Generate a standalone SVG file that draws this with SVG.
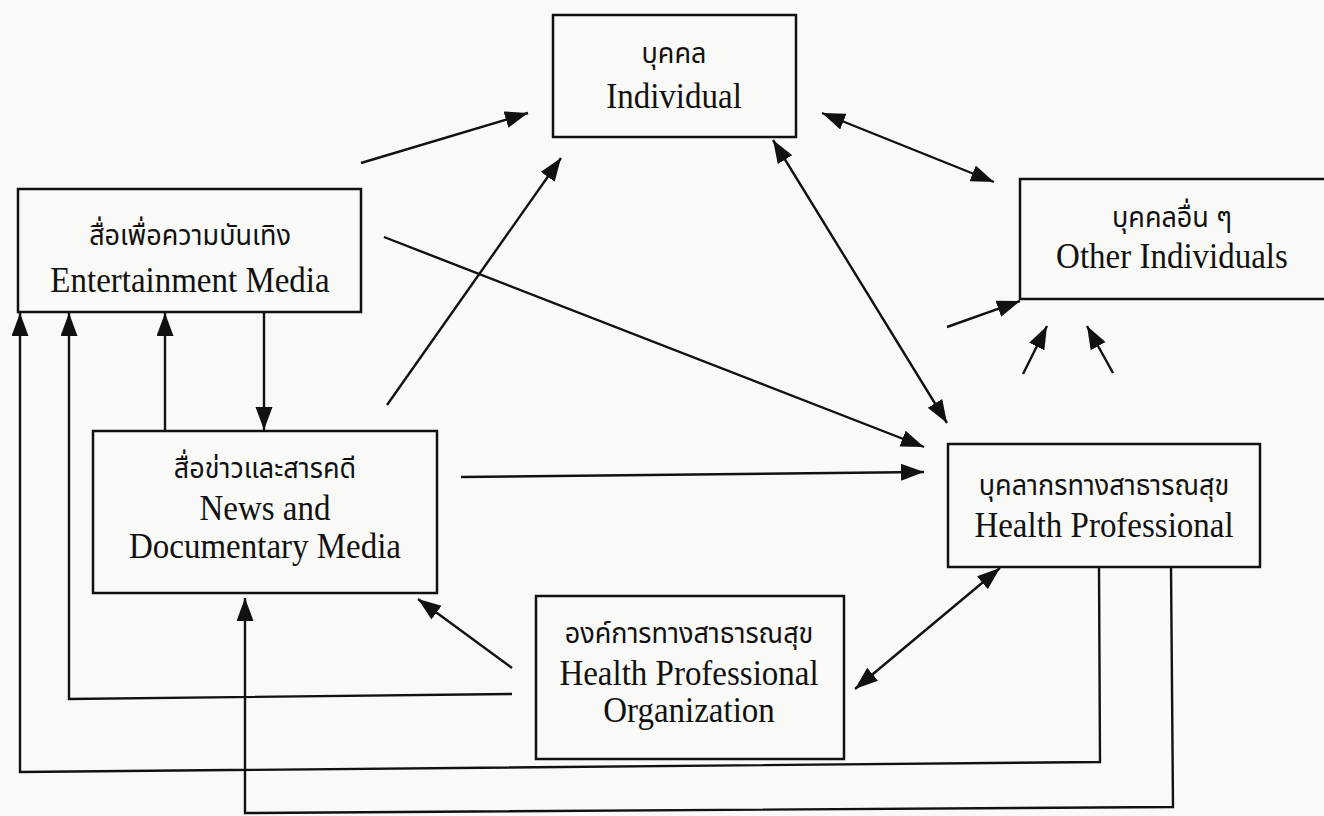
<svg xmlns="http://www.w3.org/2000/svg" width="1324" height="816" viewBox="0 0 1324 816">
<defs>
<marker id="ah" markerUnits="userSpaceOnUse" markerWidth="26" markerHeight="18" refX="23" refY="8.5" orient="auto-start-reverse">
<path d="M0,0 L23,8.5 L0,17 z" fill="#111"/>
</marker>
<style>
.box{fill:none;stroke:#111;stroke-width:2.5}
.en{font-family:"Liberation Serif","Times New Roman",serif;font-size:33px;fill:#111;text-anchor:middle}
.th{font-family:"Noto Sans Thai","Noto Sans","DejaVu Sans",sans-serif;font-size:27px;fill:#111;text-anchor:middle}
.c{fill:none;stroke:#111;stroke-width:2.4}
.c1{marker-end:url(#ah)}
.c2{marker-start:url(#ah);marker-end:url(#ah)}
</style>
</defs>
<rect x="0" y="0" width="1324" height="816" fill="#f9f9f8"/>
<g id="individual">
<rect class="box" x="553" y="15" width="243" height="122"/>
<text class="th" transform="translate(674,63) scale(1,1.05)">บุคคล</text>
<text class="en" transform="translate(674,108) scale(1,1.1)">Individual</text>
</g>
<g id="other-individuals">
<rect class="box" x="1020" y="179" width="320" height="120"/>
<text class="th" transform="translate(1172,227) scale(1,1.05)">บุคคลอื่น ๆ</text>
<text class="en" transform="translate(1172,268) scale(1,1.1)">Other Individuals</text>
</g>
<g id="entertainment-media">
<rect class="box" x="18" y="189" width="343" height="123"/>
<text class="th" transform="translate(190,245) scale(1,1.05)">สื่อเพื่อความบันเทิง</text>
<text class="en" transform="translate(190,292) scale(1,1.1)">Entertainment Media</text>
</g>
<g id="news-media">
<rect class="box" x="93" y="431" width="344" height="162"/>
<text class="th" transform="translate(265,478) scale(1,1.05)">สื่อข่าวและสารคดี</text>
<text class="en" transform="translate(265,520) scale(1,1.1)">News and</text>
<text class="en" transform="translate(265,558) scale(1,1.1)">Documentary Media</text>
</g>
<g id="health-professional">
<rect class="box" x="948" y="444" width="312" height="123"/>
<text class="th" transform="translate(1104,495) scale(1,1.05)">บุคลากรทางสาธารณสุข</text>
<text class="en" transform="translate(1104,537) scale(1,1.1)">Health Professional</text>
</g>
<g id="health-organization">
<rect class="box" x="536" y="596" width="308" height="163"/>
<text class="th" transform="translate(689,643) scale(1,1.05)">องค์การทางสาธารณสุข</text>
<text class="en" transform="translate(689,685) scale(1,1.1)">Health Professional</text>
<text class="en" transform="translate(689,722) scale(1,1.1)">Organization</text>
</g>
<g id="connectors">
<line class="c c1" x1="361" y1="163" x2="528" y2="113"/>
<line class="c c1" x1="387" y1="405" x2="561" y2="158"/>
<line class="c c1" x1="384" y1="237" x2="924" y2="447"/>
<line class="c c2" x1="773" y1="140" x2="947" y2="423"/>
<line class="c c2" x1="822" y1="113" x2="994" y2="182"/>
<line class="c c1" x1="947" y1="327" x2="1020" y2="301"/>
<line class="c c1" x1="1023" y1="374" x2="1047" y2="326"/>
<line class="c c1" x1="1113" y1="373" x2="1087" y2="326"/>
<line class="c c1" x1="461" y1="477" x2="924" y2="472"/>
<line class="c c1" x1="264" y1="312" x2="264" y2="430"/>
<line class="c c1" x1="165" y1="431" x2="165" y2="313"/>
<polyline class="c c1" points="512,694 69,699 69,313"/>
<polyline class="c c1" points="1099,567 1100,762 20,772 20,313"/>
<polyline class="c c1" points="1171,567 1173,807 245,813 245,598"/>
<line class="c c1" x1="512" y1="668" x2="418" y2="599"/>
<line class="c c2" x1="1000" y1="568" x2="855" y2="689"/>
</g>
</svg>
